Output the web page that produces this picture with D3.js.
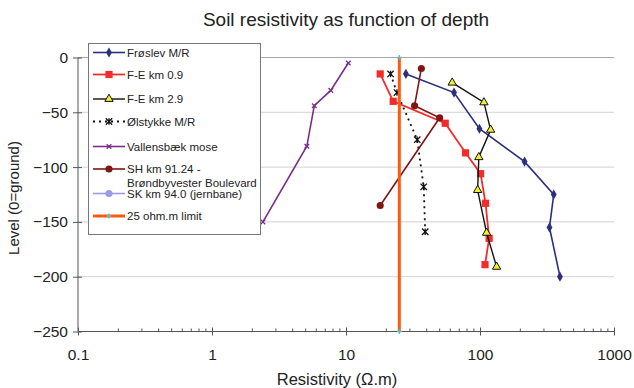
<!DOCTYPE html>
<html>
<head>
<meta charset="utf-8">
<script src="https://cdn.jsdelivr.net/npm/d3@7"></script>
<style>
  body { margin: 0; background: #fff; }
  svg { display: block; font-family: "Liberation Sans", Arial, sans-serif; }
</style>
</head>
<body>
<div id="chart"></div>
<script>
// values: resistivity (ohm.m) and level (m, 0 = ground)
const froslevRes   = [28, 64, 99, 215, 355, 330, 395];
const froslevLevel = [-15, -32, -65, -95, -125, -155, -200];

const fe09Res   = [18, 22.5, 55, 78, 101, 110, 117, 109];
const fe09Level = [-15, -40, -60, -87, -106, -133, -165, -189];

const fe29Res   = [62, 107, 120, 98, 96, 112, 133];
const fe29Level = [-23, -41, -66, -91, -121, -160, -191];

const olstykkeRes   = [21.5, 24, 34, 38, 39];
const olstykkeLevel = [-15, -32, -75, -118, -159];

const vallensbaekRes   = [10.4, 7.7, 5.8, 5.1, 2.4];
const vallensbaekLevel = [-5, -30, -44, -81, -150];

const shRes   = [36.5, 32.5, 50, 18];
const shLevel = [-10, -44, -55, -135];

const skRes   = [];
const skLevel = [];

const limitRes   = [25, 25];
const limitLevel = [0, -250];

const xTicks = [0.1, 1, 10, 100, 1000];
const xTickLabels = ["0.1", "1", "10", "100", "1000"];
const yTicks = [0, -50, -100, -150, -200, -250];

const W = 634, H = 388;

const svg = d3.select("#chart").append("svg")
    .attr("width", W)
    .attr("height", H);

const x = d3.scaleLog().domain([0.1, 1000]).range([78, 614]);
const y = d3.scaleLinear().domain([0, -250]).range([57.5, 331.5]);

// custom stroke markers
const starPath = s => `M${-s},${-s}L${s},${s}M${-s},${s}L${s},${-s}M0,${-s}L0,${s}`;
const timesPath = s => `M${-s},${-s}L${s},${s}M${-s},${s}L${s},${-s}`;
const plusPath = s => `M${-s},0L${s},0M0,${-s}L0,${s}`;

const series = [
    { name: ["Frøslev M/R"], res: froslevRes, lev: froslevLevel, color: "#2b2f7e", width: 1.6,
      marker: { type: d3.symbolDiamond, size: 30, fill: "#2b2f7e", stroke: "none" } },
    { name: ["F-E km 0.9"], res: fe09Res, lev: fe09Level, color: "#f42b2b", width: 1.8,
      marker: { type: d3.symbolSquare, size: 52, fill: "#f42b2b", stroke: "none" } },
    { name: ["F-E km 2.9"], res: fe29Res, lev: fe29Level, color: "#111", width: 1.4,
      marker: { type: d3.symbolTriangle, size: 30, fill: "#f2ef2a", stroke: "#111" } },
    { name: ["Ølstykke M/R"], res: olstykkeRes, lev: olstykkeLevel, color: "#111", width: 1.8, dash: "2,4",
      marker: { path: starPath(3.2), stroke: "#111" } },
    { name: ["Vallensbæk mose"], res: vallensbaekRes, lev: vallensbaekLevel, color: "#7b2c8c", width: 1.6,
      marker: { path: timesPath(2.3), stroke: "#7b2c8c" } },
    { name: ["SH km 91.24 -", "Brøndbyvester Boulevard"], res: shRes, lev: shLevel, color: "#7e1616", width: 1.6,
      marker: { type: d3.symbolCircle, size: 40, fill: "#7e1616", stroke: "none" } },
    { name: ["SK km 94.0 (jernbane)"], res: skRes, lev: skLevel, color: "#9a9ae8", width: 1.6,
      marker: { type: d3.symbolCircle, size: 40, fill: "#9a9ae8", stroke: "none" } },
    { name: ["25 ohm.m limit"], res: limitRes, lev: limitLevel, color: "#ff5a0c", width: 3,
      marker: { path: plusPath(2.5), stroke: "#5fb8c0" } }
];

// gridlines
svg.append("g")
    .selectAll("line")
    .data(yTicks.slice(0, -1))
    .join("line")
    .attr("x1", x.range()[0])
    .attr("x2", x.range()[1])
    .attr("y1", d => y(d))
    .attr("y2", d => y(d))
    .attr("stroke", d => d === 0 ? "#a9a9a9" : "#d2d2d2")
    .attr("stroke-width", 1);

// axes
const yAxis = svg.append("g")
    .attr("transform", `translate(${x.range()[0]},0)`)
    .call(d3.axisLeft(y).tickValues(yTicks).tickSize(5).tickPadding(5));
yAxis.selectAll(".tick line").attr("x1", 4);

const xAxis = svg.append("g")
    .attr("transform", `translate(0,${y.range()[1]})`)
    .call(d3.axisBottom(x).tickValues(xTicks).tickFormat((d, i) => xTickLabels[i]).tickSize(4).tickPadding(13));
xAxis.selectAll(".tick line").attr("y1", -4);

[yAxis, xAxis].forEach(a => {
    a.select(".domain").attr("stroke", "#555");
    a.selectAll(".tick line").attr("stroke", "#555");
    a.selectAll("text").attr("font-size", 15.5).attr("fill", "#222")
        .attr("font-family", "Liberation Sans, Arial, sans-serif");
});
yAxis.select(".domain").attr("d", `M0,${y.range()[0]}V${y.range()[1]}`);
xAxis.select(".domain").attr("d", `M${x.range()[0]},0H${x.range()[1]}`);

// minor ticks on the log axis
const minor = [];
[0.1, 1, 10, 100].forEach(d => { for (let k = 2; k <= 9; k++) minor.push(d * k); });
svg.append("g")
    .selectAll("line")
    .data(minor)
    .join("line")
    .attr("x1", d => x(d))
    .attr("x2", d => x(d))
    .attr("y1", y.range()[1])
    .attr("y2", y.range()[1] - 3)
    .attr("stroke", "#555");

// series
const line = d3.line().x(d => x(d[0])).y(d => y(d[1]));

function drawMarker(sel, m) {
    if (m.path) {
        sel.append("path").attr("d", m.path).attr("fill", "none")
            .attr("stroke", m.stroke).attr("stroke-width", 1.3);
    } else {
        sel.append("path").attr("d", d3.symbol().type(m.type).size(m.size)())
            .attr("fill", m.fill).attr("stroke", m.stroke).attr("stroke-width", 1);
    }
}

series.forEach(s => {
    const pts = s.res.map((r, i) => [r, s.lev[i]]);
    const g = svg.append("g");
    g.append("path")
        .attr("d", line(pts))
        .attr("fill", "none")
        .attr("stroke", s.color)
        .attr("stroke-width", s.width)
        .attr("stroke-dasharray", s.dash || null);
    g.selectAll("g")
        .data(pts)
        .join("g")
        .attr("transform", d => `translate(${x(d[0])},${y(d[1])})`)
        .each(function () { drawMarker(d3.select(this), s.marker); });
});

// legend
const legend = svg.append("g");
legend.append("rect")
    .attr("x", 88.5).attr("y", 43.5)
    .attr("width", 172).attr("height", 191)
    .attr("fill", "#fff")
    .attr("stroke", "#777");

const legendY = [52.5, 74.5, 99, 121.5, 146.5, 169, 193.5, 216];
series.forEach((s, i) => {
    const ly = legendY[i];
    const row = legend.append("g");
    row.append("line")
        .attr("x1", 93).attr("x2", 125)
        .attr("y1", ly).attr("y2", ly)
        .attr("stroke", s.color)
        .attr("stroke-width", s.width)
        .attr("stroke-dasharray", s.dash || null);
    drawMarker(row.append("g").attr("transform", `translate(109,${ly})`), s.marker);
    s.name.forEach((t, j) => {
        row.append("text")
            .attr("x", 127)
            .attr("y", ly + 4 + j * 14)
            .attr("font-size", 11.5)
            .attr("fill", "#222")
            .text(t);
    });
});

// titles
svg.append("text")
    .attr("x", 346).attr("y", 26)
    .attr("text-anchor", "middle")
    .attr("font-size", 19)
    .attr("fill", "#222")
    .text("Soil resistivity as function of depth");

svg.append("text")
    .attr("x", 337).attr("y", 385)
    .attr("text-anchor", "middle")
    .attr("font-size", 16.5)
    .attr("fill", "#222")
    .text("Resistivity (Ω.m)");

svg.append("text")
    .attr("transform", "translate(19,198) rotate(-90)")
    .attr("text-anchor", "middle")
    .attr("font-size", 15)
    .attr("fill", "#222")
    .text("Level (0=ground)");
</script>
</body>
</html>
